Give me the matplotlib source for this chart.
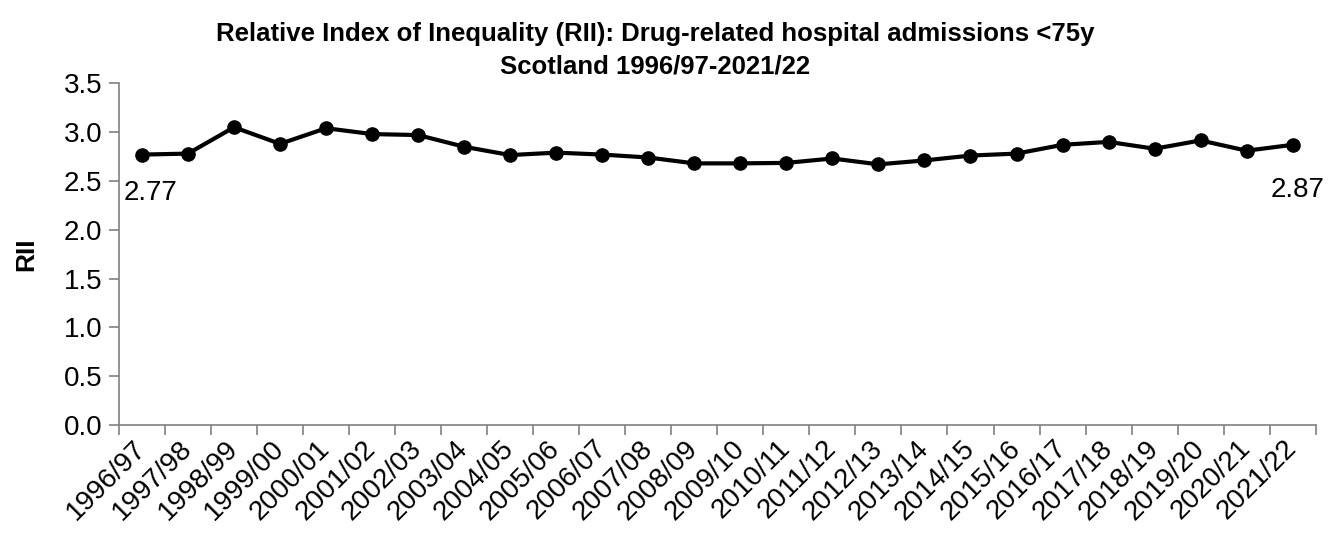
import numpy as np
import matplotlib.pyplot as plt

plt.rcParams['font.family'] = ['Liberation Sans', 'DejaVu Sans']

# data
years = ["1996/97", "1997/98", "1998/99", "1999/00", "2000/01", "2001/02",
         "2002/03", "2003/04", "2004/05", "2005/06", "2006/07", "2007/08",
         "2008/09", "2009/10", "2010/11", "2011/12", "2012/13", "2013/14",
         "2014/15", "2015/16", "2016/17", "2017/18", "2018/19", "2019/20",
         "2020/21", "2021/22"]
rii = [2.77, 2.78, 3.05, 2.88, 3.04, 2.98, 2.97, 2.85, 2.765, 2.79, 2.77,
       2.74, 2.68, 2.68, 2.685, 2.73, 2.67, 2.71, 2.76, 2.78, 2.87, 2.90,
       2.83, 2.915, 2.81, 2.87]

title1 = "Relative Index of Inequality (RII): Drug-related hospital admissions <75y"
title2 = "Scotland 1996/97-2021/22"

x = np.arange(len(years))

fig = plt.figure(figsize=(13.29, 5.34), dpi=100)
ax = fig.add_axes([0.0895, 0.204, 0.9005, 0.64])

ax.plot(x, rii, color="black", linewidth=3, marker="o", markersize=9.5)

ax.set_xlim(-0.5, len(years) - 0.5)
ax.set_ylim(0, 3.5)
yt = np.arange(0, 3.51, 0.5)
ax.set_yticks(yt)
ax.set_yticklabels([f"{v:.1f}" for v in yt], fontsize=20)

ax.set_xticks(x)
ax.set_xticklabels(years, rotation=45, ha="right", va="center",
                   rotation_mode="anchor", fontsize=20)
ax.set_xticks(np.arange(-0.5, len(years), 1), minor=True)
ax.tick_params(axis="x", which="major", length=0, pad=14)
ax.tick_params(axis="x", which="minor", length=7, color="#808080", width=1.2)
ax.tick_params(axis="y", length=7, color="#808080", width=1.2, pad=5)

for s in ["top", "right"]:
    ax.spines[s].set_visible(False)
for s in ["left", "bottom"]:
    ax.spines[s].set_color("#808080")
    ax.spines[s].set_linewidth(1.2)

ax.annotate(f"{rii[0]:.2f}", (x[0], rii[0]), xytext=(-13, -18),
            textcoords="offset points", fontsize=20, ha="left", va="top")
ax.annotate(f"{rii[-1]:.2f}", (x[-1], rii[-1]), xytext=(23, -23),
            textcoords="offset points", fontsize=20, ha="right", va="top")

fig.text(26 / 1329, 0.524, "RII", rotation=90, fontsize=19, fontweight="bold",
         ha="center", va="center")
fig.text(655 / 1329, 1 - 41 / 534, title1, fontsize=18.5, fontweight="bold",
         ha="center", va="baseline")
fig.text(655 / 1329, 1 - 73 / 534, title2, fontsize=18.5, fontweight="bold",
         ha="center", va="baseline")

fig.savefig("out.png", dpi=100)
